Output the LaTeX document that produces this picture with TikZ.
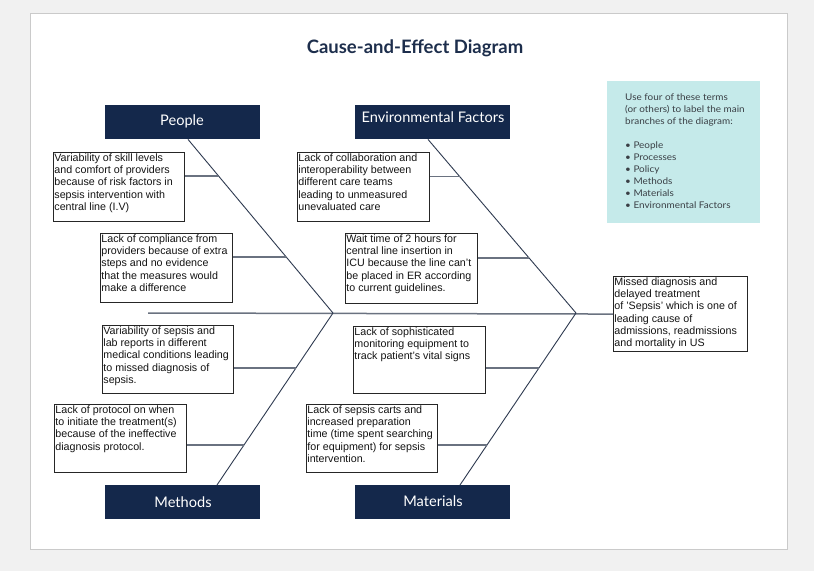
\documentclass[tikz,border=0pt]{standalone}
\usepackage{fontspec}
\setmainfont{Liberation Sans}
\newfontfamily\latofont{Lato}
\newfontfamily\latowide[FakeStretch=1.08]{Lato}
\usetikzlibrary{calc}
\definecolor{navy}{HTML}{14284B}
\definecolor{titlecol}{HTML}{1D2E4C}
\definecolor{infobg}{HTML}{C5EAEA}
\definecolor{infotext}{HTML}{3A3F45}
\definecolor{pagebg}{HTML}{F1F1F1}
\definecolor{pageedge}{HTML}{CACACA}
\definecolor{ribcol}{HTML}{6A7280}
\definecolor{diagcol}{HTML}{2E3A50}
\tikzset{
  header/.style={fill=navy, draw=none, minimum width=155pt, minimum height=34pt, anchor=north west, inner sep=0pt},
  headtext/.style={text=white, font=\latofont\fontsize{14.6}{16}\selectfont, inner sep=0pt},
  causebox/.style={draw=black!85, line width=1.1pt, fill=white, anchor=north west, inner sep=0pt},
  causetext/.style={anchor=north west, inner sep=1.2pt, align=left, font=\fontsize{10.7}{12.3}\selectfont, text=black!92},
  rib/.style={draw=ribcol, line width=1.5pt},
  diag/.style={draw=diagcol, line width=0.9pt},
  spine/.style={draw=ribcol, line width=1.5pt}
}
\begin{document}
\begin{tikzpicture}[x=1pt,y=-1pt]
% background and page
\fill[pagebg] (0,0) rectangle (814,571);
\useasboundingbox (0,0) rectangle (814,571);
\filldraw[fill=white, draw=pageedge, line width=1pt] (30,13) rectangle (787,549);

% title
\node[text=titlecol, font=\latofont\bfseries\fontsize{18.5}{20}\selectfont] (title) at (415,48) {Cause-and-Effect Diagram};

% info box
\node[fill=infobg, minimum width=153pt, minimum height=142pt, anchor=north west, inner sep=0pt] (info) at (607,81) {};
\node[anchor=north west, inner sep=0pt, align=left, text=infotext, font=\latowide\fontsize{9.2}{11.9}\selectfont] (infotxt) at (625,94)
 {Use four of these terms\\(or others) to label the main\\branches of the diagram:\\[11.9pt]
  \textbullet\ People\\\textbullet\ Processes\\\textbullet\ Policy\\\textbullet\ Methods\\\textbullet\ Materials\\\textbullet\ Environmental Factors};

% header boxes
\node[header] (people) at (105,105) {};
\node[headtext] (peoplet) at (182,121) {People};
\node[header] (env) at (355,105) {};
\node[headtext] (envt) at (433,117) {Environmental Factors};
\node[header] (methods) at (105,485) {};
\node[headtext] (methodst) at (183,502) {Methods};
\node[header] (materials) at (355,485) {};
\node[headtext] (materialst) at (433,501) {Materials};

% effect box
\node[causebox, minimum width=134pt, minimum height=75pt] (effect) at (613,276) {};
\node[causetext] (effectt) at (effect.north west) {Missed diagnosis and\\delayed treatment\\of 'Sepsis' which is one of\\leading cause of\\admissions, readmissions\\and mortality in US};

% skeleton coordinates
\coordinate (tail) at (148,313);
\coordinate (hub1) at (333,313);
\coordinate (hub2) at (576,313);
\coordinate (pb) at ($(people.south west)+(83,0)$);
\coordinate (eb) at ($(env.south west)+(73,0)$);
\coordinate (mb) at ($(methods.north west)+(112,0)$);
\coordinate (tb) at ($(materials.north west)+(105,0)$);

% spine and diagonals
\draw[spine] (tail) -- (effect.west);
\draw[diag] (pb) -- (hub1);
\draw[diag] (eb) -- (hub2);
\draw[diag] (mb) -- (hub1);
\draw[diag] (tb) -- (hub2);

\coordinate (rp1) at ($(pb)!0.210!(hub1)$);
\coordinate (rp2) at ($(pb)!0.676!(hub1)$);
\coordinate (re1) at ($(eb)!0.215!(hub2)$);
\coordinate (re2) at ($(eb)!0.684!(hub2)$);
\coordinate (rm1) at ($(mb)!0.680!(hub1)$);
\coordinate (rm2) at ($(mb)!0.233!(hub1)$);
\coordinate (rt1) at ($(tb)!0.680!(hub2)$);
\coordinate (rt2) at ($(tb)!0.233!(hub2)$);

% cause boxes
\node[causebox, minimum width=131pt, minimum height=69pt] (p1) at (53,152) {};
\node[causetext] (p1t) at (p1.north west) {Variability of skill levels\\and comfort of providers\\because of risk factors in\\sepsis intervention with\\central line (I.V)};
\node[causebox, minimum width=132pt, minimum height=69pt] (p2) at (100,233) {};
\node[causetext] (p2t) at (p2.north west) {Lack of compliance from\\providers because of extra\\steps and no evidence\\that the measures would\\make a difference};

\node[causebox, minimum width=132pt, minimum height=69pt] (e1) at (297,152) {};
\node[causetext] (e1t) at (e1.north west) {Lack of collaboration and\\interoperability between\\different care teams\\leading to unmeasured\\unevaluated care};
\node[causebox, minimum width=132pt, minimum height=70pt] (e2) at (345,233) {};
\node[causetext] (e2t) at (e2.north west) {Wait time of 2 hours for\\central line insertion in\\ICU because the line can't\\be placed in ER according\\to current guidelines.};

\node[causebox, minimum width=131pt, minimum height=68pt] (m1) at (102,325) {};
\node[causetext] (m1t) at (m1.north west) {Variability of sepsis and\\lab reports in different\\medical conditions leading\\to missed diagnosis of\\sepsis.};
\node[causebox, minimum width=132pt, minimum height=68pt] (m2) at (54,404) {};
\node[causetext] (m2t) at (m2.north west) {Lack of protocol on when\\to initiate the treatment(s)\\because of the ineffective\\diagnosis protocol.};

\node[causebox, minimum width=132pt, minimum height=67pt] (t1) at (353,326) {};
\node[causetext] (t1t) at (t1.north west) {Lack of sophisticated\\monitoring equipment to\\track patient's vital signs};
\node[causebox, minimum width=131pt, minimum height=68pt] (t2) at (306,404) {};
\node[causetext] (t2t) at (t2.north west) {Lack of sepsis carts and\\increased preparation\\time (time spent searching\\for equipment) for sepsis\\intervention.};

% ribs
\draw[rib] (p1.east |- rp1) -- (rp1);
\draw[rib] (p2.east |- rp2) -- (rp2);
\draw[rib] (e1.east |- re1) -- (re1);
\draw[rib] (e2.east |- re2) -- (re2);
\draw[rib] (m1.east |- rm1) -- (rm1);
\draw[rib] (m2.east |- rm2) -- (rm2);
\draw[rib] (t1.east |- rt1) -- (rt1);
\draw[rib] (t2.east |- rt2) -- (rt2);
\end{tikzpicture}
\end{document}
